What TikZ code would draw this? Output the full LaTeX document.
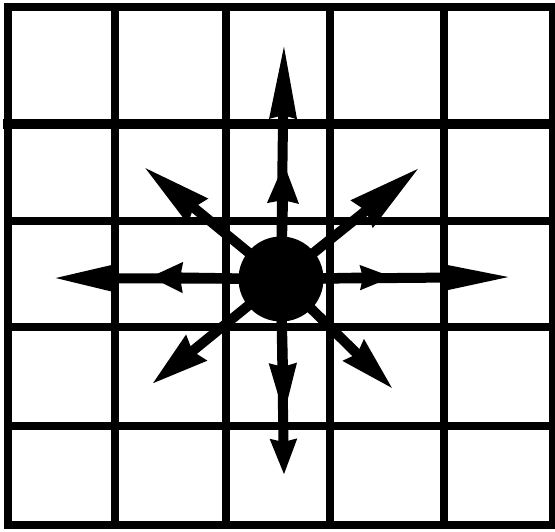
\documentclass[tikz,border=0pt]{standalone}
\usetikzlibrary{arrows.meta}
\begin{document}
\begin{tikzpicture}[x=1pt,y=-1pt,
  gridline/.style={line width=8pt, line cap=rect},
  shaft/.style={line width=10pt}]
\useasboundingbox (0,0) rectangle (555,531);
% grid
\foreach \x in {8,115,226,330,444,553} \draw[gridline] (\x,7) -- (\x,525);
\foreach \y in {7,221,327,426,525} \draw[gridline] (8,\y) -- (553,\y);
\draw[gridline, line width=10.5pt] (8,124) -- (553,124);
% centre
\node[circle, fill=black, minimum size=85pt, inner sep=0pt] (c) at (281,279) {};
% tips
\coordinate (tU) at (284,43);  \coordinate (mU) at (284,163);
\coordinate (tD) at (284,475); \coordinate (mD) at (284,417);
\coordinate (tL) at (53,278);  \coordinate (mL) at (150,277);
\coordinate (tR) at (512,277); \coordinate (mR) at (393,277);
\coordinate (tNW) at (144,167);
\coordinate (tNE) at (419,168);
\coordinate (tSW) at (152,384);
\coordinate (tSE) at (393,389);
% cardinal arrows
\draw[shaft, -{Stealth[length=74pt 0 0,width=25pt 0 0,inset=2pt 0]}] (c.center) -- (tU);
\draw[shaft, -{Stealth[length=39pt 0 0,width=29pt 0 0,inset=2pt 0]}] (c.center) -- (mU);
\draw[shaft, -{Stealth[length=35pt 0 0,width=25pt 0 0,inset=2pt 0]}] (c.center) -- (tD);
\draw[shaft, -{Stealth[length=52pt 0 0,width=25pt 0 0,inset=2pt 0]}] (c.center) -- (mD);
\draw[shaft, -{Stealth[length=62pt 0 0,width=26pt 0 0,inset=2pt 0]}] (c.center) -- (tL);
\draw[shaft, -{Stealth[length=32pt 0 0,width=29pt 0 0,inset=2pt 0]}] (c.center) -- (mL);
\draw[shaft, -{Stealth[length=67pt 0 0,width=24pt 0 0,inset=2pt 0]}] (c.center) -- (tR);
\draw[shaft, -{Stealth[length=32pt 0 0,width=23pt 0 0,inset=2pt 0]}] (c.center) -- (mR);
% diagonal arrows
\draw[shaft, -{Stealth[length=68pt 0 0,width=30pt 0 0,inset=4pt 0]}] (c.center) -- (tNW);
\draw[shaft, -{Stealth[length=72pt 0 0,width=33pt 0 0,inset=4pt 0]}] (c.center) -- (tNE);
\draw[shaft, -{Stealth[length=56pt 0 0,width=31pt 0 0,inset=4pt 0]}] (c.center) -- (tSW);
\draw[shaft, -{Stealth[length=54pt 0 0,width=28pt 0 0,inset=4pt 0]}] (c.center) -- (tSE);
\end{tikzpicture}
\end{document}
